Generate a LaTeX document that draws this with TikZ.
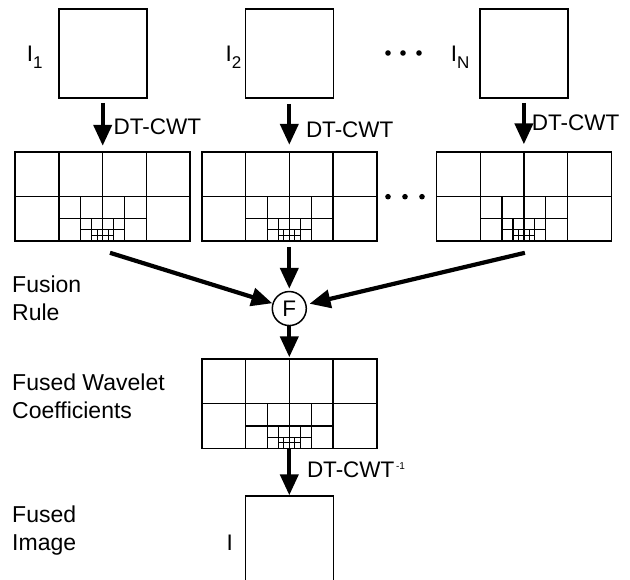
\documentclass[tikz,border=0pt]{standalone}
\usepackage{fontspec}
\setmainfont{Liberation Sans}
\usetikzlibrary{arrows.meta,positioning,calc}

\newcommand{\imgsub}[1]{\raisebox{-6.5pt}{\fontsize{17}{17}\selectfont #1}}
\newcommand{\invsup}{\raisebox{7.7pt}{\fontsize{10}{10}\selectfont\,-1}}

\begin{document}
\begin{tikzpicture}[
  x=1pt, y=-1pt,
  font=\fontsize{22.5}{28}\selectfont,
  img/.style={draw, line width=1.6pt, minimum width=88pt, minimum height=89pt, inner sep=0pt},
  wavelet/.style={draw, line width=1.6pt, minimum width=175pt, minimum height=89pt, inner sep=0pt, outer sep=0pt},
  gridline/.style={line width=1.3pt},
  arrow/.style={-{Triangle[width=18pt,length=21pt]}, line width=4.2pt},
  lbl/.style={anchor=base west, inner sep=0pt},
  side/.style={align=left, anchor=base west, inner sep=0pt, font=\fontsize{23}{28}\selectfont}
]
\useasboundingbox (0,0) rectangle (630,580);

% input images
\node[img] (img1) at (102.7,53.5) {};
\node[img, right=97pt of img1] (img2) {};
\node[img, right=145pt of img2] (imgN) {};
\node[anchor=base east, inner sep=0pt] (lab1) at ($(img1.west)+(-15,8.5)$) {I\imgsub{1}};
\node[anchor=base east, inner sep=0pt] (lab2) at ($(img2.west)+(-3,8.5)$) {I\imgsub{2}};
\node[anchor=base east, inner sep=0pt] (labN) at ($(imgN.west)+(-9.4,8.5)$) {I\imgsub{N}};
\foreach \x in {388,403,419} \fill (\x,53) circle[radius=2.8pt];

% wavelet coefficients
\node[wavelet, below=53pt of img1] (w1) {};
\node[wavelet, below=53pt of img2] (w2) {};
\node[wavelet, below=53pt of imgN] (w3) {};
\foreach \x in {388,405,422} \fill (\x,196.7) circle[radius=2.8pt];

\node[draw, circle, line width=1.5pt, minimum size=34pt, inner sep=0pt, below=50pt of w2] (F) {F};
\node[wavelet, below=33pt of F] (wf) {};
\node[img, minimum height=88pt, below=47pt of wf] (out) {};
\node[anchor=base east, inner sep=0pt] (labout) at ($(out.west)+(-11.4,10)$) {I};

% subband grids
\foreach \w in {w1,w2,w3,wf}{
  \foreach \f in {1,0.5,0.25,0.125}{
    \begin{scope}[shift={(\w.south)}]
      \draw[gridline] (-87.5*\f,0) rectangle (87.5*\f,-89*\f);
      \draw[gridline] (-87.5*\f,-44.5*\f) -- (87.5*\f,-44.5*\f);
      \foreach \c in {-43.75,0,43.75}
        \draw[gridline] (\c*\f,0) -- (\c*\f,-89*\f);
    \end{scope}
  }
}

% arrows
\draw[arrow, shorten <=4pt, shorten >=6pt] (img1) -- node[lbl, xshift=8.9pt, yshift=-9pt] {DT-CWT} (w1);
\draw[arrow, shorten <=5pt, shorten >=7pt] (img2) -- node[lbl, xshift=14.6pt, yshift=-12pt] {DT-CWT} (w2);
\draw[arrow, shorten <=4pt, shorten >=7.5pt] (imgN) -- node[lbl, xshift=5.9pt, yshift=-5pt] {DT-CWT} (w3);
\draw[arrow, shorten <=6pt, shorten >=2pt] (w2) -- (F);
\draw[arrow] ($(w1.south)+(7.3,12)$) -- (F);
\draw[arrow, shorten >=3pt] ($(w3.south)+(1,12)$) -- (F);
\draw[arrow, shorten >=2pt] (F) -- (wf);
\draw[arrow] (wf) -- node[lbl, xshift=15.6pt, yshift=-5.5pt] {DT-CWT\invsup} (out);

% side labels
\node[side] (fusion) at (12,320.7) {Fusion\\Rule};
\node[side] (coef) at (12,418.3) {Fused Wavelet\\Coefficients};
\node[side] (fused) at (12,550.7) {Fused\\Image};

\end{tikzpicture}
\end{document}
